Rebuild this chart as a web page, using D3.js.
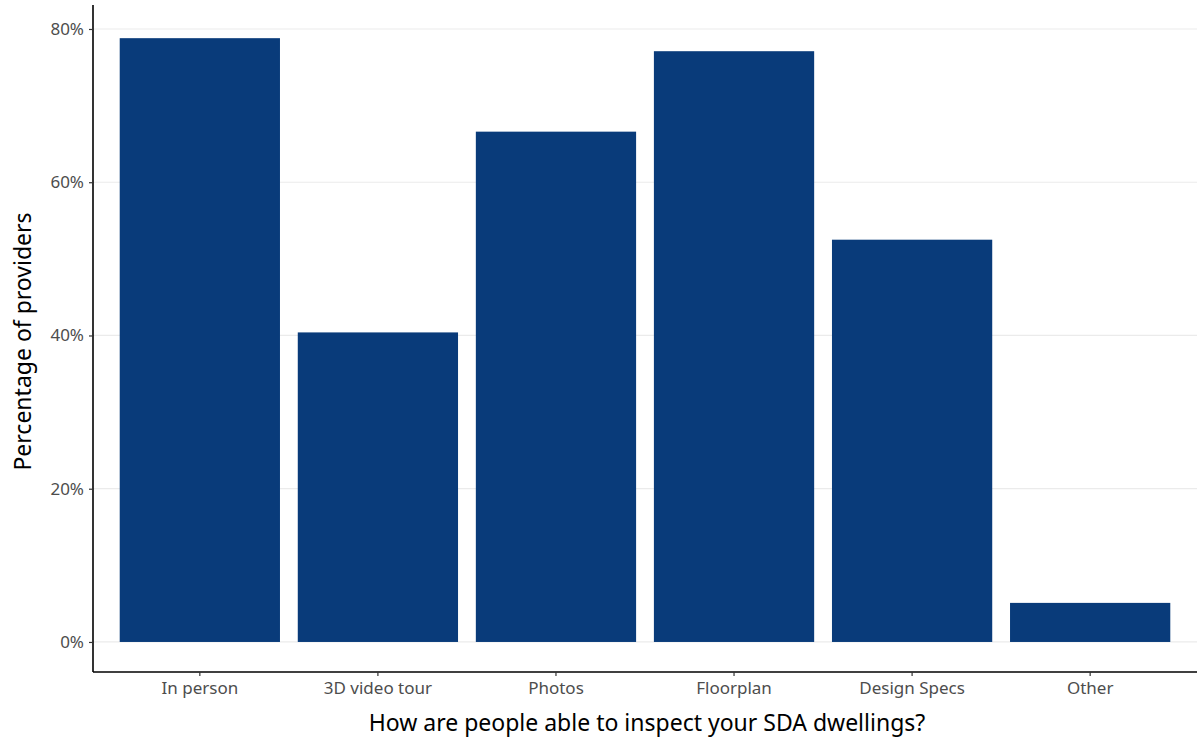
<!DOCTYPE html>
<html><head><meta charset="utf-8">
<script src="https://cdn.jsdelivr.net/npm/d3@7"></script>
<style>body{margin:0;background:#fff}svg{display:block}</style>
</head><body>
<script>
const categories = ["In person","3D video tour","Photos","Floorplan","Design Specs","Other"];
const values = [78.8, 40.4, 66.6, 77.1, 52.5, 5.1];
const yTicks = [0, 20, 40, 60, 80];

(function () {
const W = 1197, H = 740;
const mLeft = 93, mRight = 1197, mTop = 5, mBottom = 672;
const svg = d3.select("body").append("svg").attr("width", W).attr("height", H);

const x = d3.scaleBand().domain(categories).range([mLeft, mRight]).paddingInner(0.1).paddingOuter(0.15);
const y = d3.scaleLinear().domain([-3.92, 83.13]).range([mBottom, mTop]);

// gridlines
svg.append("g").selectAll("line").data(yTicks).join("line")
  .attr("x1", mLeft).attr("x2", mRight).attr("y1", d => y(d)).attr("y2", d => y(d))
  .attr("stroke", "#ebebeb").attr("stroke-width", 1.2);

// bars
svg.append("g").selectAll("rect").data(values).join("rect")
  .attr("x", (d, i) => x(categories[i])).attr("width", x.bandwidth())
  .attr("y", d => y(d)).attr("height", d => y(0) - y(d))
  .attr("fill", "#093b7a");

const font = "'Noto Sans', 'Open Sans', sans-serif";

// y axis
const ya = svg.append("g").attr("transform", `translate(${mLeft},0)`)
  .call(d3.axisLeft(y).tickValues(yTicks).tickFormat(d => d + "%").tickSize(4).tickPadding(5));
ya.select(".domain").attr("d", `M0,${mTop}V${mBottom}`).attr("stroke", "#000").attr("stroke-width", 1.6);
ya.selectAll(".tick line").attr("stroke", "#333").attr("stroke-width", 1.2);
ya.selectAll(".tick text").attr("fill", "#4d4d4d").style("font-family", font).style("font-size", "17px");

// x axis
const xa = svg.append("g").attr("transform", `translate(0,${mBottom})`)
  .call(d3.axisBottom(x).tickSize(4).tickPadding(6));
xa.select(".domain").attr("d", `M${mLeft},0H${mRight}`).attr("stroke", "#000").attr("stroke-width", 1.6);
xa.selectAll(".tick line").attr("stroke", "#333").attr("stroke-width", 1.2);
xa.selectAll(".tick text").attr("fill", "#4d4d4d").style("font-family", font).style("font-size", "17px");

// titles
svg.append("text").attr("x", (mLeft + mRight) / 2 + 2).attr("y", 731).attr("text-anchor", "middle")
  .style("font-family", font).style("font-size", "23px").attr("fill", "#000")
  .text("How are people able to inspect your SDA dwellings?");
svg.append("text").attr("transform", `translate(31,${(mTop + mBottom) / 2 + 3}) rotate(-90)`).attr("text-anchor", "middle")
  .style("font-family", font).style("font-size", "23px").attr("fill", "#000")
  .text("Percentage of providers");
})();
</script>
</body></html>
